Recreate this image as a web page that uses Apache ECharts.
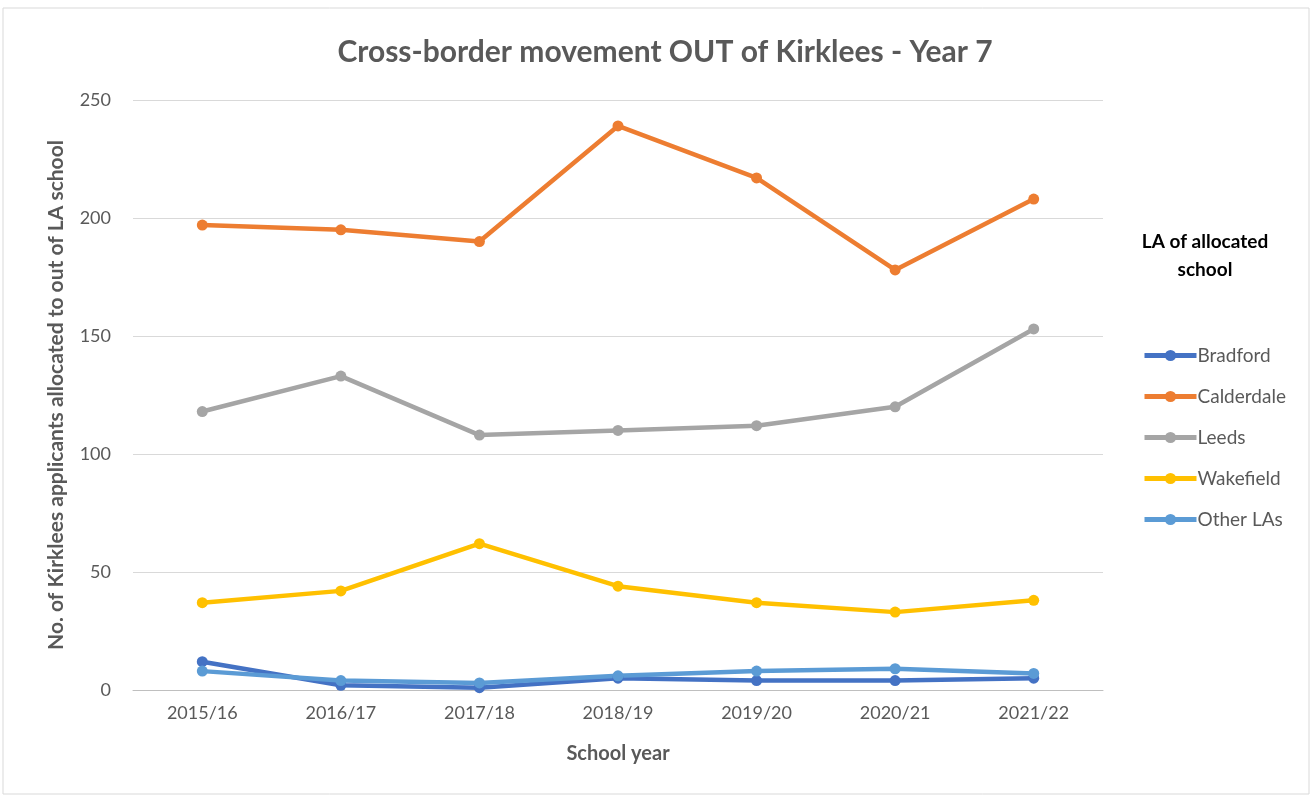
<!DOCTYPE html>
<html>
<head>
<meta charset="utf-8">
<script src="https://cdn.jsdelivr.net/npm/echarts@6/dist/echarts.min.js"></script>
<style>
html,body{margin:0;padding:0;background:#fff;}
#chart{width:1313px;height:796px;}
</style>
</head>
<body>
<div id="chart"></div>
<script>
const categories = ['2015/16','2016/17','2017/18','2018/19','2019/20','2020/21','2021/22'];
const bradford   = [12, 2, 1, 5, 4, 4, 5];
const calderdale = [197, 195, 190, 239, 217, 178, 208];
const leeds      = [118, 133, 108, 110, 112, 120, 153];
const wakefield  = [37, 42, 62, 44, 37, 33, 38];
const otherLAs   = [8, 4, 3, 6, 8, 9, 7];
const yTicks = [0, 50, 100, 150, 200, 250];

const seriesDefs = [
  {name:'Bradford', data:bradford, color:'#4472C4'},
  {name:'Calderdale', data:calderdale, color:'#ED7D31'},
  {name:'Leeds', data:leeds, color:'#A5A5A5'},
  {name:'Wakefield', data:wakefield, color:'#FFC000'},
  {name:'Other LAs', data:otherLAs, color:'#5B9BD5'}
];

const chart = echarts.init(document.getElementById('chart'));
const FONT = 'Lato';
chart.setOption({
  backgroundColor:'#fff',
  animation:false,
  title:{
    text:'Cross-border movement OUT of Kirklees - Year 7',
    left:660, top:32, textAlign:'center',
    textStyle:{fontFamily:FONT, fontSize:30, fontWeight:'bold', color:'#595959'}
  },
  graphic:[
    {type:'rect', shape:{x:3,y:8,width:1306,height:786}, style:{fill:'none', stroke:'#D9D9D9', lineWidth:1}},
    {type:'text', x:1205, y:228, style:{text:'LA of allocated\nschool', textAlign:'center', fontFamily:FONT, fontSize:19, fontWeight:'bold', fill:'#000', lineHeight:28}}
  ],
  legend:{
    orient:'vertical', left:1137, top:341, itemGap:22,
    itemWidth:52, itemHeight:14,
    textStyle:{fontFamily:FONT, fontSize:19, color:'#595959', padding:[0,0,0,-4]},
    data:seriesDefs.map(s=>({name:s.name, itemStyle:{color:s.color}, lineStyle:{width:5, color:s.color}}))
  },
  grid:{left:133, right:210, top:100, bottom:106},
  xAxis:{
    type:'category', data:categories, boundaryGap:true,
    axisLine:{lineStyle:{color:'#BFBFBF', width:1}},
    axisTick:{show:false},
    axisLabel:{fontFamily:FONT, fontSize:18, color:'#595959', margin:14},
    name:'School year', nameLocation:'middle', nameGap:54,
    nameTextStyle:{fontFamily:FONT, fontSize:20, fontWeight:'bold', color:'#595959'}
  },
  yAxis:{
    type:'value', min:0, max:250, interval:50,
    axisLine:{show:false}, axisTick:{show:false},
    splitLine:{lineStyle:{color:'#D9D9D9', width:1}},
    axisLabel:{fontFamily:FONT, fontSize:18, color:'#595959', margin:22},
    name:'No. of Kirklees applicants allocated to out of LA school',
    nameLocation:'middle', nameGap:66, nameRotate:90,
    nameTextStyle:{fontFamily:FONT, fontSize:21, fontWeight:'bold', color:'#595959'}
  },
  series:seriesDefs.map(s=>({
    name:s.name, type:'line', data:s.data,
    symbol:'circle', symbolSize:11,
    lineStyle:{width:4.5, color:s.color},
    itemStyle:{color:s.color}
  }))
});
</script>
</body>
</html>
